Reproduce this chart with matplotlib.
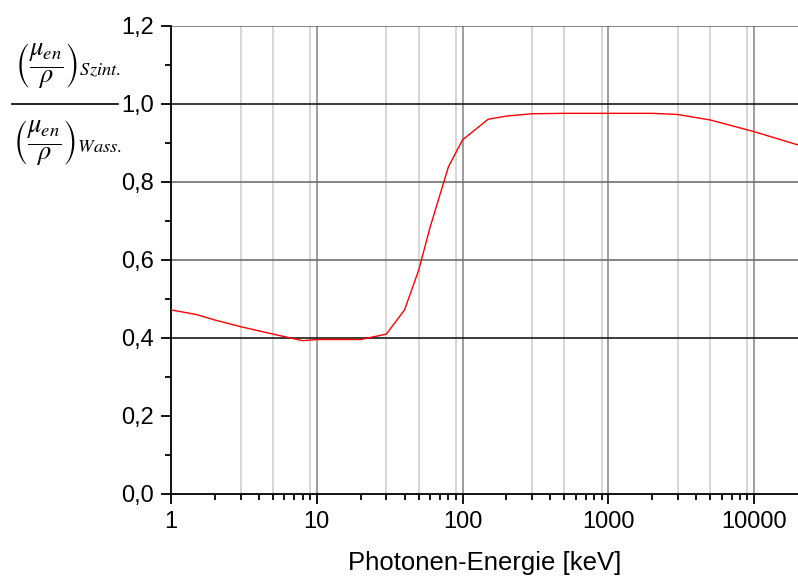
import numpy as np
import matplotlib
matplotlib.use('Agg')
import matplotlib.pyplot as plt
from matplotlib.lines import Line2D
from matplotlib.ticker import FixedLocator, NullFormatter, FuncFormatter

# Photon energy [keV] and ratio of mass energy-absorption coefficients
energie = [1, 1.5, 2, 3, 5, 8, 10, 15, 20, 30, 40, 50, 60, 80, 100, 150,
           200, 300, 500, 1000, 2000, 3000, 5000, 10000, 20000]
verhaeltnis = [0.472, 0.460, 0.446, 0.429, 0.410, 0.393, 0.396, 0.396, 0.396,
               0.410, 0.472, 0.574, 0.685, 0.839, 0.908, 0.961,
               0.969, 0.975, 0.976, 0.976, 0.976, 0.973, 0.959, 0.929, 0.895]

y_ticks = [0.0, 0.2, 0.4, 0.6, 0.8, 1.0, 1.2]
x_ticks = [1, 10, 100, 1000, 10000]

plt.rcParams['font.family'] = ['Liberation Sans', 'DejaVu Sans']
plt.rcParams['mathtext.fontset'] = 'stix'

fig = plt.figure(figsize=(7.98, 5.76), dpi=100)
ax = fig.add_axes([0.2143, 0.1424, 0.7857, 0.8125])

ax.set_xscale('log')
ax.set_xlim(1, 20000)
ax.set_ylim(0, 1.2)

# vertical grid: light at 3,5,9 in every decade, darker at decades
for dec in [1, 10, 100, 1000, 10000]:
    for m in [3, 5, 9]:
        if dec * m < 20000:
            ax.axvline(dec * m, color='#d0d0d0', lw=1.2, zorder=0)
    if dec > 1:
        ax.axvline(dec, color='#8c8c8c', lw=1.2, zorder=0)

# horizontal grid
for yv in [0.6, 0.8, 1.2]:
    ax.axhline(yv, color='#6e6e6e', lw=1.2, zorder=0)
for yv in [0.4, 1.0]:
    ax.axhline(yv, color='#1a1a1a', lw=1.2, zorder=0)

ax.plot(energie, verhaeltnis, color='red', lw=1.0, zorder=3)

ax.spines['top'].set_visible(False)
ax.spines['right'].set_visible(False)
ax.spines['left'].set_linewidth(1.3)
ax.spines['bottom'].set_linewidth(1.3)

ax.xaxis.set_major_locator(FixedLocator(x_ticks))
ax.xaxis.set_minor_locator(FixedLocator(
    [d * m for d in x_ticks for m in range(2, 10) if d * m < 20000]))
ax.xaxis.set_minor_formatter(NullFormatter())
ax.xaxis.set_major_formatter(FuncFormatter(lambda v, p: '%d' % v))

ax.yaxis.set_major_locator(FixedLocator(y_ticks))
ax.yaxis.set_minor_locator(FixedLocator([0.1, 0.3, 0.5, 0.7, 0.9, 1.1]))
ax.yaxis.set_major_formatter(FuncFormatter(lambda v, p: ('%.1f' % v).replace('.', ',')))

ax.tick_params(which='major', direction='out', length=7, width=1.3,
               labelsize=17, colors='black', pad=5)
ax.tick_params(which='minor', direction='out', length=4, width=1.3)

ax.set_xlabel('Photonen-Energie [keV]', fontsize=18.5, labelpad=13)

# y label as a fraction built from two parts
fig.text(0.085, 1 - 66 / 576, r'$\left(\dfrac{\mu_{en}}{\rho}\right)_{Szint.}$',
         fontsize=19, ha='center', va='center')
fig.text(0.085, 1 - 143 / 576, r'$\left(\dfrac{\mu_{en}}{\rho}\right)_{Wass.}$',
         fontsize=19, ha='center', va='center')
fig.add_artist(Line2D([12 / 798, 118 / 798], [1 - 104 / 576, 1 - 104 / 576],
                      color='black', lw=1.2))

fig.savefig('out.png', dpi=100)
